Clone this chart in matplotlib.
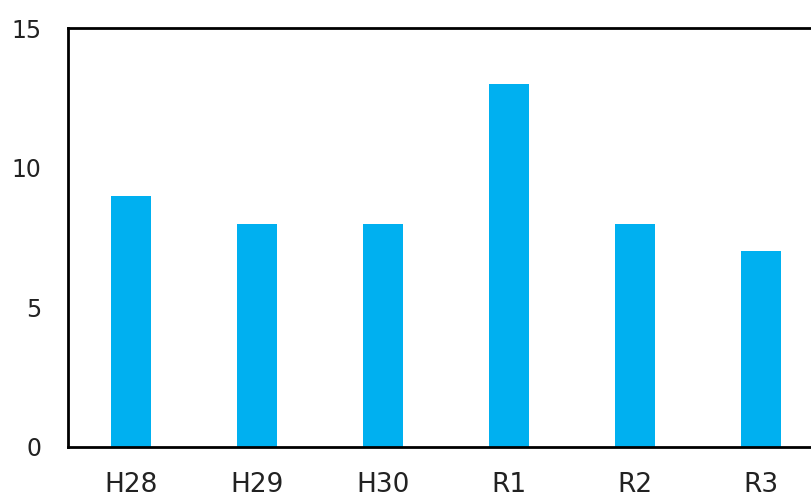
import matplotlib.pyplot as plt

# data
years = ["H28", "H29", "H30", "R1", "R2", "R3"]
counts = [9, 8, 8, 13, 8, 7]

fig = plt.figure(figsize=(8.12, 4.99), dpi=100)
# axes right edge runs past the figure (cropped in the reference)
ax = fig.add_axes([68 / 812, 1 - 447 / 499, 756 / 812, 419 / 499])

ax.bar(range(len(years)), counts, width=0.32, color="#00B0F0")
ax.set_xlim(-0.5, len(years) - 0.5)
ax.set_ylim(0, 15)
ax.set_yticks([0, 5, 10, 15])
ax.set_xticks(range(len(years)))
ax.set_xticklabels(years)

for s in ["left", "top", "bottom", "right"]:
    ax.spines[s].set_linewidth(2)
    ax.spines[s].set_color("black")

ax.tick_params(axis="both", length=0, colors="#222222")
ax.tick_params(axis="y", pad=19, labelsize=17)
ax.tick_params(axis="x", pad=18, labelsize=19)

fig.savefig("out.png", dpi=100)
